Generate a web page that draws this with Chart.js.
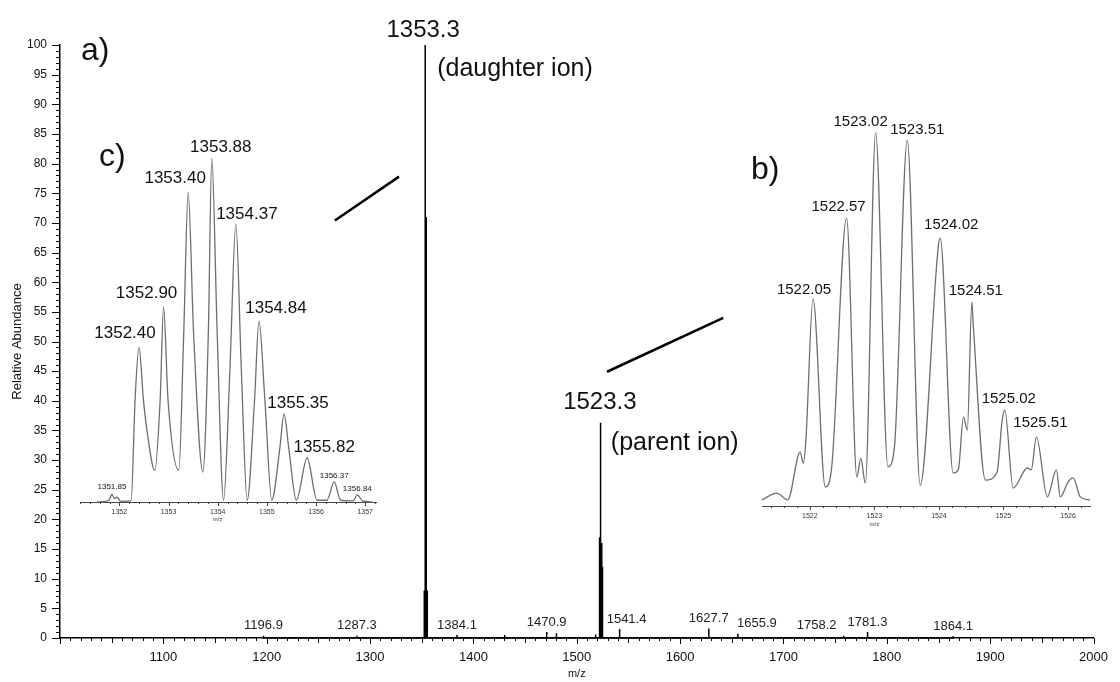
<!DOCTYPE html>
<html>
<head>
<meta charset="utf-8">
<script src="https://cdn.jsdelivr.net/npm/chart.js@4"></script>
<style>
  html, body { margin: 0; padding: 0; background: #fff; }
  #quadro { position: relative; width: 1120px; height: 682px; }
  canvas { position: absolute; }
  #principal { left: 0; top: 0; }
  #insetC { left: 70px; top: 100px; }
  #insetB { left: 745px; top: 90px; }
</style>
</head>
<body>
<div id="quadro">
  <canvas id="principal" width="1120" height="682"></canvas>
  <canvas id="insetC" width="320" height="440"></canvas>
  <canvas id="insetB" width="365" height="460"></canvas>
</div>
<script>
// Espectro principal (picos)
const picosMz = [1196.9, 1287.3, 1352.4, 1353.3, 1354.3, 1355.3, 1384.1, 1430.2, 1470.9, 1480.3,
                 1518.2, 1522.0, 1522.6, 1523.0, 1523.3, 1524.0, 1524.5, 1525.0,
                 1541.4, 1627.7, 1655.9, 1758.2, 1781.3, 1864.1];
const picosInt = [0.4, 0.4, 8, 100, 71, 8, 0.5, 0.5, 1.0, 0.8,
                  0.6, 17, 16, 24, 36.3, 16, 12, 6,
                  1.5, 1.6, 0.7, 0.4, 1.0, 0.3];
const rotulosMz = [1196.9, 1287.3, 1384.1, 1470.9, 1541.4, 1627.7, 1655.9, 1758.2, 1781.3, 1864.1];

// Inset c) - perfil isotópico do íon filho
const cMz = [1351.55, 1351.78, 1351.85, 1351.90, 1351.95, 1352.03, 1352.24, 1352.32, 1352.40, 1352.49,
             1352.57, 1352.72, 1352.83, 1352.90, 1352.99, 1353.21, 1353.31, 1353.40, 1353.51, 1353.70,
             1353.81, 1353.88, 1353.99, 1354.12, 1354.25, 1354.37, 1354.48, 1354.60, 1354.75, 1354.84,
             1354.96, 1355.10, 1355.26, 1355.35, 1355.45, 1355.60, 1355.82, 1356.02, 1356.22, 1356.37,
             1356.50, 1356.75, 1356.84, 1356.95, 1357.15];
const cInt = [0, 0.4, 2.2, 1.0, 1.4, 0.2, 0.3, 29, 44, 29,
              19.6, 9, 29, 55.4, 29, 9, 48, 88, 48, 8.5,
              48, 97.7, 48, 0.5, 38, 79, 38, 0.5, 29, 51.4,
              29, 0.5, 14.8, 25, 14.8, 0.5, 12.5, 0.5, 0.5, 5.7,
              0.5, 0.3, 2, 0.3, 0];
const cRotulos = [1351.85, 1352.40, 1352.90, 1353.40, 1353.88, 1354.37, 1354.84, 1355.35, 1355.82, 1356.37, 1356.84];

// Inset b) - perfil isotópico do íon pai
const bMz = [1521.26, 1521.49, 1521.66, 1521.85, 1521.90, 1521.94, 1522.05, 1522.24, 1522.34, 1522.57,
             1522.73, 1522.79, 1522.86, 1523.02, 1523.21, 1523.31, 1523.51, 1523.71, 1523.99, 1524.02,
             1524.22, 1524.30, 1524.38, 1524.44, 1524.51, 1524.53, 1524.72, 1524.90, 1524.98, 1525.02,
             1525.15, 1525.37, 1525.43, 1525.51, 1525.68, 1525.82, 1525.88, 1526.00, 1526.08, 1526.19,
             1526.34];
const bInt = [1.6, 3.4, 1.6, 14.2, 11.3, 17.4, 54.5, 5, 10.3, 75.8,
              7.6, 12.6, 6, 98.2, 10.3, 15.3, 96.3, 5.5, 68.2, 70.5,
              8.7, 9.5, 23.4, 20, 53.7, 48.2, 6.8, 8.9, 22.6, 25.3,
              4.7, 10, 9.5, 18.2, 2.4, 9.5, 2.4, 6.3, 7.4, 2.4,
              1.6];
const bRotulos = [1522.05, 1522.57, 1523.02, 1523.51, 1524.02, 1524.51, 1525.02, 1525.51];

// Linhas de ligação entre os picos e os insets
const ligacaoC = [{ x: 1266, y: 70.4 }, { x: 1328, y: 77.8 }];
const ligacaoB = [{ x: 1529.3, y: 44.9 }, { x: 1641.7, y: 54.0 }];

const FONTE = "Arial, 'Liberation Sans', sans-serif";
Chart.defaults.font.family = FONTE;
Chart.defaults.color = '#111';

function construirBastoes(mz, intens, meia) {
    const pts = [];
    mz.forEach((m, i) => {
        pts.push({ x: m - meia, y: 0 }, { x: m, y: intens[i] }, { x: m + meia, y: 0 });
    });
    return pts;
}

function pontos(mz, intens) {
    return mz.map((m, i) => ({ x: m, y: intens[i] }));
}

function alturaDe(mz, intens, alvo) {
    let melhor = 0;
    mz.forEach((m, i) => {
        if (Math.abs(m - alvo) < Math.abs(mz[melhor] - alvo)) melhor = i;
    });
    return intens[melhor];
}

// marcas de escala desenhadas à mão (menores e maiores)
const marcasEixo = {
    id: 'marcasEixo',
    afterDraw(chart, args, opts) {
        const ctx = chart.ctx;
        ctx.save();
        ctx.strokeStyle = opts.cor || '#000';
        ctx.lineWidth = 1;
        ['x', 'y'].forEach(k => {
            const cfg = opts[k];
            if (!cfg) return;
            const s = chart.scales[k];
            const i0 = Math.ceil(s.min / cfg.passo - 1e-6);
            const i1 = Math.floor(s.max / cfg.passo + 1e-6);
            ctx.beginPath();
            for (let i = i0; i <= i1; i++) {
                const p = Math.round(s.getPixelForValue(i * cfg.passo)) + 0.5;
                let len = cfg.curto;
                if (i % cfg.cada === 0) len = cfg.longo;
                else if (cfg.meio && i % cfg.meio === 0) len = cfg.medio;
                if (k === 'x') {
                    ctx.moveTo(p, s.top);
                    ctx.lineTo(p, s.top + len);
                } else {
                    ctx.moveTo(s.right, p);
                    ctx.lineTo(s.right - len, p);
                }
            }
            ctx.stroke();
        });
        ctx.restore();
    }
};

const rotulos = {
    id: 'rotulos',
    afterDraw(chart, args, opts) {
        const { ctx, scales: { x, y } } = chart;
        ctx.save();
        ctx.textBaseline = 'middle';
        (opts.itens || []).forEach(it => {
            ctx.font = it.fonte;
            ctx.fillStyle = it.cor || '#111';
            ctx.textAlign = it.alinhar || 'center';
            ctx.fillText(it.texto, x.getPixelForValue(it.x) + (it.dx || 0), y.getPixelForValue(it.y) + (it.dy || 0));
        });
        ctx.restore();
    }
};

// ---------- gráfico principal ----------
// alguns rótulos aparecem deslocados na figura original
const deslocRotulo = { 1541.4: 7, 1655.9: 19, 1758.2: -27 };
const itensPrincipal = rotulosMz.map(m => ({
    texto: m.toFixed(1), x: m, y: alturaDe(picosMz, picosInt, m),
    dx: deslocRotulo[m] || 0, dy: -10, fonte: '13px ' + FONTE, cor: '#222'
}));
itensPrincipal.push(
    { texto: '1353.3', x: 1353.3, y: 100, dx: -2, dy: -15, fonte: '24px ' + FONTE },
    { texto: '(daughter ion)', x: 1353.3, y: 100, dx: 12, dy: 24, alinhar: 'left', fonte: '25px ' + FONTE },
    { texto: '1523.3', x: 1523.3, y: 36.3, dx: -1, dy: -20, fonte: '24px ' + FONTE },
    { texto: '(parent ion)', x: 1523.3, y: 36.3, dx: 10, dy: 20, alinhar: 'left', fonte: '25px ' + FONTE },
    { texto: 'a)', x: 1000, y: 100, dx: 21, dy: 6, alinhar: 'left', fonte: '32px ' + FONTE },
    { texto: 'c)', x: 1000, y: 100, dx: 39, dy: 112, alinhar: 'left', fonte: '32px ' + FONTE },
    { texto: 'b)', x: 1000, y: 100, dx: 691, dy: 125, alinhar: 'left', fonte: '32px ' + FONTE }
);

new Chart(document.getElementById('principal'), {
    type: 'scatter',
    data: {
        datasets: [
            { data: construirBastoes(picosMz, picosInt, 0.12), showLine: true, borderColor: '#000', borderWidth: 1.5, pointRadius: 0, clip: false },
            { data: ligacaoC, showLine: true, borderColor: '#000', borderWidth: 2.5, pointRadius: 0, clip: false },
            { data: ligacaoB, showLine: true, borderColor: '#000', borderWidth: 2.5, pointRadius: 0, clip: false }
        ]
    },
    options: {
        responsive: false,
        animation: false,
        events: [],
        layout: { padding: { left: 0, right: 19, top: 45, bottom: 0 } },
        plugins: {
            legend: { display: false },
            tooltip: { enabled: false },
            marcasEixo: {
                x: { passo: 10, cada: 10, meio: 5, curto: 3, medio: 5, longo: 6 },
                y: { passo: 1, cada: 5, curto: 4, longo: 8 }
            },
            rotulos: { itens: itensPrincipal }
        },
        scales: {
            x: {
                type: 'linear', min: 1000, max: 2000,
                grid: { display: false, drawTicks: false },
                border: { color: '#000', width: 1.5 },
                ticks: { stepSize: 100, padding: 12, autoSkip: false, maxRotation: 0, font: { size: 13 }, color: '#111',
                         callback: v => v === 1000 ? '' : String(v) },
                title: { display: true, text: 'm/z', font: { size: 11 }, padding: { top: 0, bottom: 1 } },
                afterFit: s => { s.height = 44; }
            },
            y: {
                min: 0, max: 100,
                grid: { display: false, drawTicks: false },
                border: { color: '#000', width: 1.5 },
                ticks: { stepSize: 5, padding: 13, font: { size: 12 }, color: '#111' },
                title: { display: true, text: 'Relative Abundance', font: { size: 13 }, padding: { top: 10, bottom: 0 } },
                afterFit: s => { s.width = 60; }
            }
        }
    },
    plugins: [marcasEixo, rotulos]
});

// ---------- insets ----------
function criarInset(id, mz, intens, marcados, desloc, fonteRot, minX, maxX, pad, alturaX, mzTitulo, dyTitulo) {
    const itens = marcados.map((m, i) => ({
        texto: m.toFixed(2), x: m, y: alturaDe(mz, intens, m),
        dx: desloc[i][0], dy: desloc[i][1], fonte: (desloc[i][2] || fonteRot) + 'px ' + FONTE, cor: '#111'
    }));
    itens.push({ texto: 'm/z', x: mzTitulo, y: 0, dy: dyTitulo, fonte: '6px ' + FONTE, cor: '#333' });
    new Chart(document.getElementById(id), {
        type: 'scatter',
        data: {
            datasets: [{
                data: pontos(mz, intens), showLine: true, cubicInterpolationMode: 'monotone',
                borderColor: '#6e6e6e', borderWidth: 1.3, pointRadius: 0, clip: false
            }]
        },
        options: {
            responsive: false,
            animation: false,
            events: [],
            layout: { padding: pad },
            plugins: {
                legend: { display: false },
                tooltip: { enabled: false },
                marcasEixo: { cor: '#444', x: { passo: 0.2, cada: 5, curto: 2, longo: 4 } },
                rotulos: { itens: itens }
            },
            scales: {
                x: {
                    type: 'linear', min: minX, max: maxX,
                    grid: { display: false, drawTicks: false },
                    border: { color: '#444', width: 1 },
                    ticks: { stepSize: 1, includeBounds: false, padding: 6, autoSkip: false, maxRotation: 0,
                             font: { size: 7 }, color: '#333', callback: v => String(Math.round(v)) },
                    afterFit: s => { s.height = alturaX; }
                },
                y: { display: false, min: 0, max: 100 }
            }
        },
        plugins: [marcasEixo, rotulos]
    });
}

criarInset('insetC', cMz, cInt, cRotulos,
    [[0, -7, 8], [-14, -14], [-17, -14], [-13, -14], [9, -11], [11, -10], [17, -13], [14, -11], [17, -11], [0, -6, 8], [0, -6, 8]],
    17, 1351.2, 1357.22, { left: 10, right: 14, top: 50, bottom: 0 }, 38, 1354, 17);

criarInset('insetB', bMz, bInt, bRotulos,
    [[-9, -9], [-8, -11], [-15, -11], [10, -10], [11, -13], [4, -11], [4, -11], [4, -14]],
    15, 1521.26, 1526.34, { left: 17, right: 20, top: 36, bottom: 0 }, 44, 1523, 18);
</script>
</body>
</html>
